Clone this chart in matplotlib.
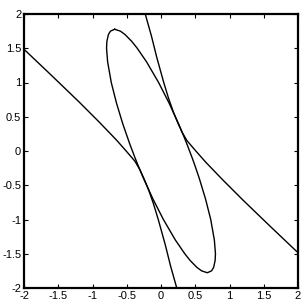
#!/usr/bin/env python3

import numpy as np
from matplotlib import pyplot as plt

plt.rcParams['font.family'] = ['Liberation Sans', 'DejaVu Sans']
plt.rcParams['axes.unicode_minus'] = False

# ellipse, traced round from the top point
ell_x = [-0.676, -0.738, -0.768, -0.790, -0.795, -0.779, -0.726, -0.650, -0.559,
         -0.455, -0.379, -0.339, -0.255, -0.118, 0.035, 0.210, 0.347, 0.427,
         0.525, 0.593, 0.676, 0.738, 0.768, 0.790, 0.795, 0.779, 0.726, 0.650,
         0.559, 0.491, 0.455, 0.379, 0.339, 0.255, 0.118, -0.035, -0.210, -0.347,
         -0.427, -0.525, -0.593, -0.676]
ell_y = [1.777, 1.75, 1.7, 1.6, 1.5, 1.3, 1.0, 0.7, 0.4,
         0.1, -0.1, -0.2, -0.4, -0.7, -1.0, -1.3, -1.5, -1.6,
         -1.7, -1.75, -1.777, -1.75, -1.7, -1.6, -1.5, -1.3, -1.0, -0.7,
         -0.4, -0.2, -0.1, 0.1, 0.2, 0.4, 0.7, 1.0, 1.3, 1.5,
         1.6, 1.7, 1.75, 1.777]

# left/lower branch of the other curve
brA_x = [-2.00, -1.60, -1.20, -0.90, -0.65, -0.50, -0.38, -0.31, -0.25,
         -0.18, -0.11, -0.04, 0.06, 0.14, 0.23]
brA_y = [1.485, 1.105, 0.72, 0.42, 0.16, -0.01, -0.15, -0.27, -0.40,
         -0.57, -0.77, -1.00, -1.36, -1.68, -2.00]

# right/upper branch
brB_x = [2.00, 1.60, 1.20, 0.90, 0.65, 0.50, 0.38, 0.31, 0.25,
         0.18, 0.11, 0.04, -0.06, -0.14, -0.23]
brB_y = [-1.485, -1.105, -0.72, -0.42, -0.16, 0.01, 0.15, 0.27, 0.40,
         0.57, 0.77, 1.00, 1.36, 1.68, 2.00]

ticks = [-2, -1.5, -1, -0.5, 0, 0.5, 1, 1.5, 2]
ticklabels = ['-2', '-1.5', '-1', '-0.5', '0', '0.5', '1', '1.5', '2']

fig = plt.figure(figsize=(3.04, 3.08), dpi=100)
ax = fig.add_axes([24/304, 20/308, 274/304, 274/308])

ax.plot(ell_x, ell_y, 'k-', lw=1.0)
ax.plot(brA_x, brA_y, 'k-', lw=1.0)
ax.plot(brB_x, brB_y, 'k-', lw=1.0)

ax.set_xlim(-2, 2)
ax.set_ylim(-2, 2)
ax.set_xticks(ticks)
ax.set_xticklabels(ticklabels)
ax.set_yticks(ticks)
ax.set_yticklabels(ticklabels)
ax.tick_params(direction='in', length=3, width=0.8, top=True, right=True,
               labelsize=8, pad=2)
for sp in ax.spines.values():
    sp.set_linewidth(1.6)

fig.savefig('out.png', dpi=100)
